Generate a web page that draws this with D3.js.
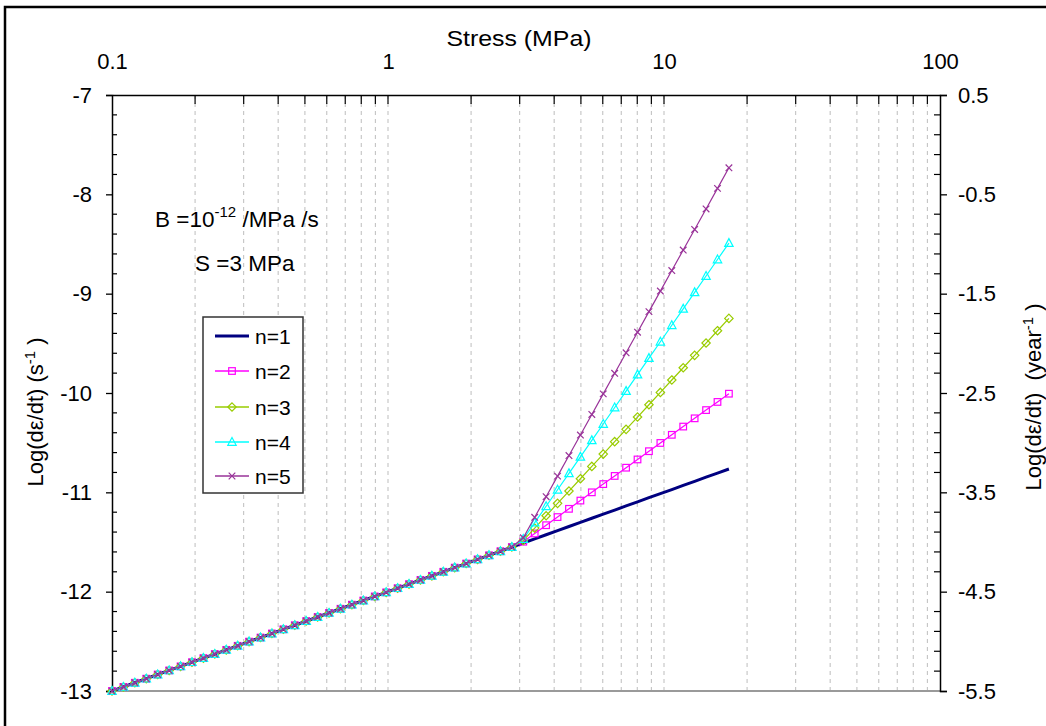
<!DOCTYPE html>
<html>
<head>
<meta charset="utf-8">
<script src="https://cdn.jsdelivr.net/npm/d3@7"></script>
<style>
  html, body { margin: 0; padding: 0; background: #fff; }
  svg { display: block; font-family: "Liberation Sans", Arial, sans-serif; }
</style>
</head>
<body>
<svg id="chart" width="1046" height="726"></svg>
<script>
// Applied stress (MPa), geometric steps of 10 %
const stressMPa = [
  0.1, 0.11, 0.121, 0.1331, 0.1464, 0.1611, 0.1772, 0.1949, 0.2144, 0.2358,
  0.2594, 0.2853, 0.3138, 0.3452, 0.3797, 0.4177, 0.4595, 0.5054, 0.556, 0.6116,
  0.6727, 0.74, 0.814, 0.8954, 0.985, 1.0835, 1.1918, 1.311, 1.4421, 1.5863,
  1.7449, 1.9194, 2.1114, 2.3225, 2.5548, 2.8102, 3.0913, 3.4004, 3.7404, 4.1145,
  4.5259, 4.9785, 5.4764, 6.024, 6.6264, 7.289, 8.018, 8.8197, 9.7017, 10.672,
  11.739, 12.913, 14.204, 15.625, 17.187
];

// Log strain rate (1/s) below the threshold stress S = 3 MPa (common to all n)
const rateBelowS = [
  -13.000, -12.959, -12.917, -12.876, -12.834, -12.793, -12.752, -12.710, -12.669, -12.628,
  -12.586, -12.545, -12.503, -12.462, -12.421, -12.379, -12.338, -12.296, -12.255, -12.214,
  -12.172, -12.131, -12.089, -12.048, -12.007, -11.965, -11.924, -11.882, -11.841, -11.800,
  -11.758, -11.717, -11.675, -11.634, -11.593, -11.551
];

// Log strain rate (1/s) above S for each stress exponent n
const rateAboveS_n1 = [-11.510, -11.468, -11.427, -11.386, -11.344, -11.303, -11.261, -11.220, -11.179, -11.137,
  -11.096, -11.054, -11.013, -10.972, -10.930, -10.889, -10.847, -10.806, -10.765];
const rateAboveS_n2 = [-11.497, -11.414, -11.331, -11.249, -11.166, -11.083, -11.000, -10.917, -10.835, -10.752,
  -10.669, -10.586, -10.503, -10.421, -10.338, -10.255, -10.172, -10.090, -10.007];
const rateAboveS_n3 = [-11.484, -11.360, -11.236, -11.111, -10.987, -10.863, -10.739, -10.615, -10.490, -10.366,
  -10.242, -10.118, -9.994, -9.869, -9.746, -9.621, -9.497, -9.373, -9.249];
const rateAboveS_n4 = [-11.471, -11.305, -11.140, -10.974, -10.809, -10.643, -10.477, -10.312, -10.146, -9.981,
  -9.815, -9.649, -9.484, -9.318, -9.153, -8.987, -8.822, -8.656, -8.491];
const rateAboveS_n5 = [-11.458, -11.251, -11.044, -10.837, -10.630, -10.423, -10.216, -10.009, -9.802, -9.595,
  -9.388, -9.181, -8.974, -8.767, -8.561, -8.354, -8.147, -7.940, -7.733];

const seriesNames = ["n=1", "n=2", "n=3", "n=4", "n=5"];
const seriesColors = ["#000080", "#ff00ff", "#99cc00", "#00ffff", "#993399"];
const seriesMarkers = ["none", "square", "diamond", "triangle", "cross"];
const seriesRates = [rateAboveS_n1, rateAboveS_n2, rateAboveS_n3, rateAboveS_n4, rateAboveS_n5]
  .map(above => rateBelowS.concat(above));

const xTickValues = [0.1, 1, 10, 100];
const yLeftTicks = [-7, -8, -9, -10, -11, -12, -13];
const yRightTicks = [0.5, -0.5, -1.5, -2.5, -3.5, -4.5, -5.5];

const svg = d3.select("#chart");
const plot = { left: 112, right: 940, top: 95, bottom: 691 };
const FONT = "Liberation Sans, Arial, sans-serif";
const plain = d => String(d);   // keep ASCII hyphen-minus in labels

const x = d3.scaleLog().domain([0.1, 100]).range([plot.left, plot.right]);
const y = d3.scaleLinear().domain([-13, -7]).range([plot.bottom, plot.top]);
// seconds per year: log10(3.15e7) = 7.5
const yYear = d3.scaleLinear().domain([-5.5, 0.5]).range([plot.bottom, plot.top]);

// outer frame
svg.append("rect").attr("x", 5).attr("y", 7).attr("width", 1080).attr("height", 760)
  .attr("fill", "none").attr("stroke", "#000").attr("stroke-width", 2.5);

// minor/major positions on the stress axis
const xGrid = [];
[0.1, 1, 10].forEach(d => { for (let m = 1; m <= 9; m++) xGrid.push(d * m); });
const xInner = xGrid.filter(v => v > 0.1 + 1e-9);

// dashed vertical gridlines
svg.append("g").selectAll("line").data(xInner).join("line")
  .attr("x1", d => x(d)).attr("x2", d => x(d))
  .attr("y1", plot.top).attr("y2", plot.bottom)
  .attr("stroke", "#bdbdbd").attr("stroke-width", 1).attr("stroke-dasharray", "4,4");

// bottom border of plot area
svg.append("line").attr("x1", plot.left).attr("x2", plot.right)
  .attr("y1", plot.bottom).attr("y2", plot.bottom)
  .attr("stroke", "#9a9a9a").attr("stroke-width", 2);

// top stress axis
const topAxis = d3.axisTop(x).tickValues(xTickValues).tickFormat(plain).tickSize(0).tickPadding(26);
const gTop = svg.append("g").attr("transform", `translate(0,${plot.top})`).call(topAxis);
gTop.select(".domain").attr("stroke", "#000").attr("stroke-width", 1.5);
gTop.selectAll("text").attr("font-size", 22).attr("fill", "#000").attr("font-family", FONT);
svg.append("g").selectAll("line").data(xInner).join("line")
  .attr("x1", d => x(d)).attr("x2", d => x(d))
  .attr("y1", plot.top).attr("y2", plot.top + 9)
  .attr("stroke", "#000").attr("stroke-width", 1.2);

// left axis (s^-1)
const leftAxis = d3.axisLeft(y).tickValues(yLeftTicks).tickFormat(plain).tickSize(6).tickPadding(14);
const gLeft = svg.append("g").attr("transform", `translate(${plot.left},0)`).call(leftAxis);
gLeft.select(".domain").attr("stroke", "#000").attr("stroke-width", 1.5);
gLeft.selectAll(".tick line").attr("stroke", "#000").attr("stroke-width", 1.3);
gLeft.selectAll("text").attr("font-size", 22).attr("fill", "#000").attr("font-family", FONT);
const yMinor = d3.range(0, 31).filter(i => i % 5 !== 0).map(i => -13 + i * 0.2);
svg.append("g").selectAll("line").data(yMinor).join("line")
  .attr("x1", plot.left).attr("x2", plot.left + 5)
  .attr("y1", d => y(d)).attr("y2", d => y(d))
  .attr("stroke", "#000").attr("stroke-width", 1.2);

// right axis (year^-1)
const rightAxis = d3.axisRight(yYear).tickValues(yRightTicks).tickFormat(plain).tickSize(7).tickPadding(11);
const gRight = svg.append("g").attr("transform", `translate(${plot.right},0)`).call(rightAxis);
gRight.select(".domain").attr("stroke", "#000").attr("stroke-width", 1.5);
gRight.selectAll(".tick line").attr("stroke", "#000").attr("stroke-width", 1.3);
gRight.selectAll("text").attr("font-size", 22).attr("fill", "#000").attr("font-family", FONT);
const yRMinor = d3.range(0, 31).filter(i => i % 5 !== 0).map(i => -5.5 + i * 0.2);
svg.append("g").selectAll("line").data(yRMinor).join("line")
  .attr("x1", plot.right - 6).attr("x2", plot.right)
  .attr("y1", d => yYear(d)).attr("y2", d => yYear(d))
  .attr("stroke", "#000").attr("stroke-width", 1.2);

// axis titles
svg.append("text").attr("x", 519).attr("y", 46).attr("text-anchor", "middle")
  .attr("font-size", 22).attr("textLength", 145).attr("lengthAdjust", "spacingAndGlyphs")
  .text("Stress (MPa)");

const leftTitle = svg.append("text")
  .attr("transform", "translate(43,412) rotate(-90)")
  .attr("text-anchor", "middle").attr("font-size", 22);
leftTitle.append("tspan").text("Log(dε/dt) (s");
leftTitle.append("tspan").attr("dy", -8).attr("font-size", 15).text("-1");
leftTitle.append("tspan").attr("dy", 8).text(" )");

const rightTitle = svg.append("text")
  .attr("transform", "translate(1041,397) rotate(-90)")
  .attr("text-anchor", "middle").attr("font-size", 22).attr("xml:space", "preserve");
rightTitle.append("tspan").text("Log(dε/dt)  (year");
rightTitle.append("tspan").attr("dy", -8).attr("font-size", 15).text("-1");
rightTitle.append("tspan").attr("dy", 8).text(" )");

// parameter annotation
const ann1 = svg.append("text").attr("x", 155).attr("y", 227).attr("font-size", 22.5);
ann1.append("tspan").text("B =10");
ann1.append("tspan").attr("dy", -10).attr("font-size", 15).text("-12");
ann1.append("tspan").attr("dy", 10).text(" /MPa /s");
svg.append("text").attr("x", 195).attr("y", 271).attr("font-size", 22.5).text("S =3 MPa");

// marker shapes
function drawMarker(g, type, color, cx, cy) {
  const s = 3.3;
  if (type === "square") {
    g.append("rect").attr("x", cx - s).attr("y", cy - s).attr("width", 2 * s).attr("height", 2 * s)
      .attr("fill", "none").attr("stroke", color).attr("stroke-width", 1.2);
  } else if (type === "diamond") {
    g.append("path").attr("d", `M${cx},${cy - 4.2}L${cx + 4.2},${cy}L${cx},${cy + 4.2}L${cx - 4.2},${cy}Z`)
      .attr("fill", "none").attr("stroke", color).attr("stroke-width", 1.2);
  } else if (type === "triangle") {
    g.append("path").attr("d", `M${cx},${cy - 4.5}L${cx + 4.2},${cy + 3.3}L${cx - 4.2},${cy + 3.3}Z`)
      .attr("fill", "none").attr("stroke", color).attr("stroke-width", 1.2);
  } else if (type === "cross") {
    g.append("path").attr("d", `M${cx - 3.3},${cy - 3.3}L${cx + 3.3},${cy + 3.3}M${cx + 3.3},${cy - 3.3}L${cx - 3.3},${cy + 3.3}`)
      .attr("fill", "none").attr("stroke", color).attr("stroke-width", 1.2);
  }
}

const line = d3.line().x(d => x(d[0])).y(d => y(d[1]));
const gSeries = svg.append("g");
seriesRates.forEach((rates, i) => {
  const pts = stressMPa.map((s, k) => [s, rates[k]]);
  const g = gSeries.append("g");
  g.append("path").attr("d", line(pts)).attr("fill", "none")
    .attr("stroke", seriesColors[i]).attr("stroke-width", i === 0 ? 3 : 1.2);
  if (seriesMarkers[i] !== "none") {
    pts.forEach(p => drawMarker(g, seriesMarkers[i], seriesColors[i], x(p[0]), y(p[1])));
  }
});

// legend
const legend = svg.append("g");
legend.append("rect").attr("x", 203).attr("y", 317).attr("width", 100).attr("height", 176)
  .attr("fill", "#fff").attr("stroke", "#333").attr("stroke-width", 1.5);
const legendY = [336, 371, 407, 442, 476];
seriesNames.forEach((name, i) => {
  const ly = legendY[i];
  legend.append("line").attr("x1", 215).attr("x2", 249).attr("y1", ly).attr("y2", ly)
    .attr("stroke", seriesColors[i]).attr("stroke-width", i === 0 ? 3 : 1.5);
  if (seriesMarkers[i] !== "none") drawMarker(legend, seriesMarkers[i], seriesColors[i], 232, ly);
  legend.append("text").attr("x", 255).attr("y", ly + 7.5).attr("font-size", 21).text(name);
});
</script>
</body>
</html>
